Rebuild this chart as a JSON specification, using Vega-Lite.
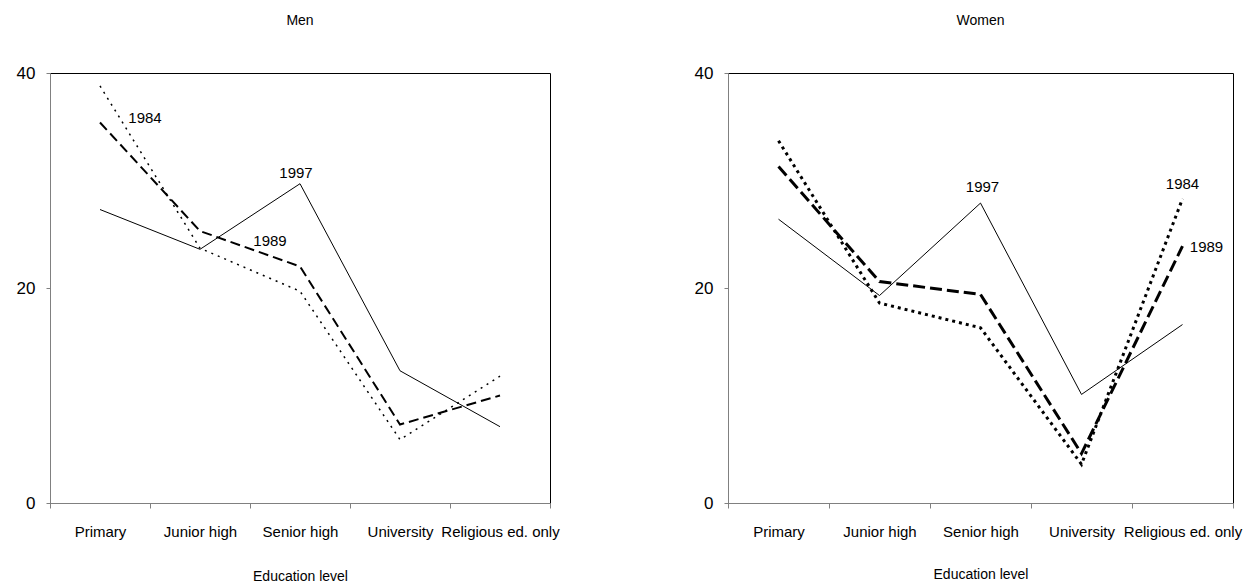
{
  "$schema": "https://vega.github.io/schema/vega-lite/v6.json",
  "autosize": "pad",
  "padding": {"left": 15, "top": 13, "right": 5, "bottom": 2},
  "background": "white",
  "bounds": "flush",
  "spacing": 178,
  "config": {
    "font": "Liberation Sans",
    "view": {"stroke": "#000000", "strokeWidth": 1},
    "axis": {"grid": false, "domainColor": "#808080", "tickColor": "#808080", "labelColor": "#000000", "titleColor": "#000000", "labelFont": "Liberation Sans", "titleFont": "Liberation Sans", "titleFontWeight": "normal"},
    "title": {"font": "Liberation Sans", "fontWeight": "normal", "fontSize": 14, "color": "#000000"}
  },
  "datasets": {
    "series": [
      {"panel": "Men", "year": "1984", "edu": "Primary", "value": 38.8},
      {"panel": "Men", "year": "1984", "edu": "Junior high", "value": 23.7},
      {"panel": "Men", "year": "1984", "edu": "Senior high", "value": 19.7},
      {"panel": "Men", "year": "1984", "edu": "University", "value": 5.9},
      {"panel": "Men", "year": "1984", "edu": "Religious ed. only", "value": 11.8},
      {"panel": "Men", "year": "1989", "edu": "Primary", "value": 35.4},
      {"panel": "Men", "year": "1989", "edu": "Junior high", "value": 25.3},
      {"panel": "Men", "year": "1989", "edu": "Senior high", "value": 22.0},
      {"panel": "Men", "year": "1989", "edu": "University", "value": 7.3},
      {"panel": "Men", "year": "1989", "edu": "Religious ed. only", "value": 10.0},
      {"panel": "Men", "year": "1997", "edu": "Primary", "value": 27.3},
      {"panel": "Men", "year": "1997", "edu": "Junior high", "value": 23.6},
      {"panel": "Men", "year": "1997", "edu": "Senior high", "value": 29.7},
      {"panel": "Men", "year": "1997", "edu": "University", "value": 12.3},
      {"panel": "Men", "year": "1997", "edu": "Religious ed. only", "value": 7.1},
      {"panel": "Women", "year": "1984", "edu": "Primary", "value": 33.7},
      {"panel": "Women", "year": "1984", "edu": "Junior high", "value": 18.6},
      {"panel": "Women", "year": "1984", "edu": "Senior high", "value": 16.3},
      {"panel": "Women", "year": "1984", "edu": "University", "value": 3.6},
      {"panel": "Women", "year": "1984", "edu": "Religious ed. only", "value": 28.3},
      {"panel": "Women", "year": "1989", "edu": "Primary", "value": 31.3},
      {"panel": "Women", "year": "1989", "edu": "Junior high", "value": 20.6},
      {"panel": "Women", "year": "1989", "edu": "Senior high", "value": 19.4},
      {"panel": "Women", "year": "1989", "edu": "University", "value": 4.6},
      {"panel": "Women", "year": "1989", "edu": "Religious ed. only", "value": 23.9},
      {"panel": "Women", "year": "1997", "edu": "Primary", "value": 26.4},
      {"panel": "Women", "year": "1997", "edu": "Junior high", "value": 19.3},
      {"panel": "Women", "year": "1997", "edu": "Senior high", "value": 27.9},
      {"panel": "Women", "year": "1997", "edu": "University", "value": 10.1},
      {"panel": "Women", "year": "1997", "edu": "Religious ed. only", "value": 16.6}
    ],
    "labels": [
      {"panel": "Men", "label": "1984", "edu": "Primary", "value": 35.8},
      {"panel": "Men", "label": "1997", "edu": "Senior high", "value": 30.7},
      {"panel": "Men", "label": "1989", "edu": "Junior high", "value": 24.4},
      {"panel": "Women", "label": "1997", "edu": "Senior high", "value": 29.4},
      {"panel": "Women", "label": "1984", "edu": "Religious ed. only", "value": 29.7},
      {"panel": "Women", "label": "1989", "edu": "Religious ed. only", "value": 23.8}
    ]
  },
  "hconcat": [
    {
      "width": 500,
      "height": 430,
      "title": {"text": "Men", "offset": 36},
      "encoding": {
        "x": {"field": "edu", "type": "nominal", "sort": ["Primary", "Junior high", "Senior high", "University", "Religious ed. only"], "scale": {"type": "band", "paddingInner": 0, "paddingOuter": 0, "domain": ["Primary", "Junior high", "Senior high", "University", "Religious ed. only"]}, "axis": {"title": "Education level", "labelAngle": 0, "tickBand": "extent", "tickSize": 5, "labelPadding": 16, "labelFontSize": 15, "titleFontSize": 14, "titlePadding": 30, "labelLimit": 0, "labelOverlap": false}},
        "y": {"field": "value", "type": "quantitative", "scale": {"domain": [0, 40], "nice": false}, "axis": {"title": null, "values": [0, 20, 40], "tickSize": 4, "labelPadding": 11, "labelFontSize": 17}}
      },
      "layer": [
        {"mark": {"type": "rule", "color": "#000000", "strokeWidth": 1, "strokeDash": [3, 3]}, "encoding": {"y": {"datum": 20}}},
        {"data": {"name": "series"}, "transform": [{"filter": "datum.panel === 'Men' && datum.year === '1997'"}], "mark": {"type": "line", "color": "#000000", "strokeWidth": 1}, "encoding": {"x": {"field": "edu", "type": "nominal", "bandPosition": 0.5, "sort": ["Primary", "Junior high", "Senior high", "University", "Religious ed. only"]}}},
        {"data": {"name": "series"}, "transform": [{"filter": "datum.panel === 'Men' && datum.year === '1989'"}], "mark": {"type": "line", "color": "#000000", "strokeWidth": 2, "strokeDash": [10, 5]}, "encoding": {"x": {"field": "edu", "type": "nominal", "bandPosition": 0.5, "sort": ["Primary", "Junior high", "Senior high", "University", "Religious ed. only"]}}},
        {"data": {"name": "series"}, "transform": [{"filter": "datum.panel === 'Men' && datum.year === '1984'"}], "mark": {"type": "line", "color": "#000000", "strokeWidth": 1.5, "strokeDash": [2, 5]}, "encoding": {"x": {"field": "edu", "type": "nominal", "bandPosition": 0.5, "sort": ["Primary", "Junior high", "Senior high", "University", "Religious ed. only"]}}},
        {"data": {"name": "labels"}, "transform": [{"filter": "datum.panel === 'Men' && datum.label === '1984'"}], "mark": {"type": "text", "fontSize": 15, "color": "#000000", "dx": 45, "baseline": "middle"}, "encoding": {"x": {"field": "edu", "type": "nominal", "bandPosition": 0.5, "sort": ["Primary", "Junior high", "Senior high", "University", "Religious ed. only"]}, "text": {"field": "label"}}},
        {"data": {"name": "labels"}, "transform": [{"filter": "datum.panel === 'Men' && datum.label === '1997'"}], "mark": {"type": "text", "fontSize": 15, "color": "#000000", "dx": -4, "baseline": "middle"}, "encoding": {"x": {"field": "edu", "type": "nominal", "bandPosition": 0.5, "sort": ["Primary", "Junior high", "Senior high", "University", "Religious ed. only"]}, "text": {"field": "label"}}},
        {"data": {"name": "labels"}, "transform": [{"filter": "datum.panel === 'Men' && datum.label === '1989'"}], "mark": {"type": "text", "fontSize": 15, "color": "#000000", "dx": 70, "baseline": "middle"}, "encoding": {"x": {"field": "edu", "type": "nominal", "bandPosition": 0.5, "sort": ["Primary", "Junior high", "Senior high", "University", "Religious ed. only"]}, "text": {"field": "label"}}}
      ]
    },
    {
      "width": 505,
      "height": 430,
      "title": {"text": "Women", "offset": 36},
      "encoding": {
        "x": {"field": "edu", "type": "nominal", "sort": ["Primary", "Junior high", "Senior high", "University", "Religious ed. only"], "scale": {"type": "band", "paddingInner": 0, "paddingOuter": 0, "domain": ["Primary", "Junior high", "Senior high", "University", "Religious ed. only"]}, "axis": {"title": "Education level", "labelAngle": 0, "tickBand": "extent", "tickSize": 5, "labelPadding": 16, "labelFontSize": 15, "titleFontSize": 14, "titlePadding": 28, "labelLimit": 0, "labelOverlap": false}},
        "y": {"field": "value", "type": "quantitative", "scale": {"domain": [0, 40], "nice": false}, "axis": {"title": null, "values": [0, 20, 40], "tickSize": 4, "labelPadding": 11, "labelFontSize": 17}}
      },
      "layer": [
        {"mark": {"type": "rule", "color": "#000000", "strokeWidth": 1, "strokeDash": [3, 3]}, "encoding": {"y": {"datum": 20}}},
        {"data": {"name": "series"}, "transform": [{"filter": "datum.panel === 'Women' && datum.year === '1997'"}], "mark": {"type": "line", "color": "#000000", "strokeWidth": 1}, "encoding": {"x": {"field": "edu", "type": "nominal", "bandPosition": 0.5, "sort": ["Primary", "Junior high", "Senior high", "University", "Religious ed. only"]}}},
        {"data": {"name": "series"}, "transform": [{"filter": "datum.panel === 'Women' && datum.year === '1989'"}], "mark": {"type": "line", "color": "#000000", "strokeWidth": 3, "strokeDash": [12, 5]}, "encoding": {"x": {"field": "edu", "type": "nominal", "bandPosition": 0.5, "sort": ["Primary", "Junior high", "Senior high", "University", "Religious ed. only"]}}},
        {"data": {"name": "series"}, "transform": [{"filter": "datum.panel === 'Women' && datum.year === '1984'"}], "mark": {"type": "line", "color": "#000000", "strokeWidth": 3, "strokeDash": [3, 4]}, "encoding": {"x": {"field": "edu", "type": "nominal", "bandPosition": 0.5, "sort": ["Primary", "Junior high", "Senior high", "University", "Religious ed. only"]}}},
        {"data": {"name": "labels"}, "transform": [{"filter": "datum.panel === 'Women' && datum.label === '1997'"}], "mark": {"type": "text", "fontSize": 15, "color": "#000000", "dx": 2, "baseline": "middle"}, "encoding": {"x": {"field": "edu", "type": "nominal", "bandPosition": 0.5, "sort": ["Primary", "Junior high", "Senior high", "University", "Religious ed. only"]}, "text": {"field": "label"}}},
        {"data": {"name": "labels"}, "transform": [{"filter": "datum.panel === 'Women' && datum.label === '1984'"}], "mark": {"type": "text", "fontSize": 15, "color": "#000000", "dx": 0, "baseline": "middle"}, "encoding": {"x": {"field": "edu", "type": "nominal", "bandPosition": 0.5, "sort": ["Primary", "Junior high", "Senior high", "University", "Religious ed. only"]}, "text": {"field": "label"}}},
        {"data": {"name": "labels"}, "transform": [{"filter": "datum.panel === 'Women' && datum.label === '1989'"}], "mark": {"type": "text", "fontSize": 15, "color": "#000000", "dx": 24, "baseline": "middle"}, "encoding": {"x": {"field": "edu", "type": "nominal", "bandPosition": 0.5, "sort": ["Primary", "Junior high", "Senior high", "University", "Religious ed. only"]}, "text": {"field": "label"}}}
      ]
    }
  ]
}
